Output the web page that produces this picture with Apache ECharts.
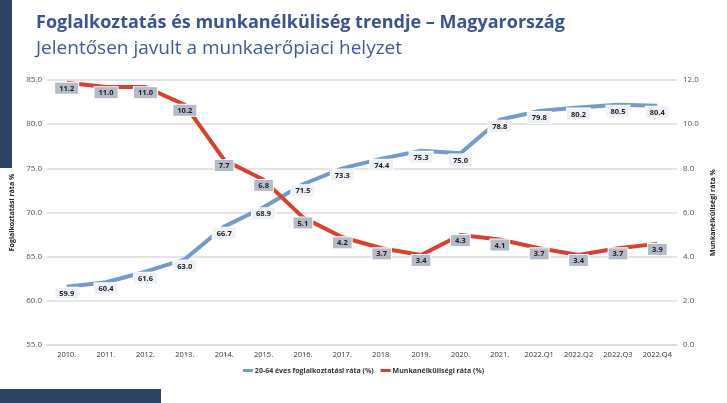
<!DOCTYPE html>
<html>
<head>
<meta charset="utf-8">
<script src="https://cdn.jsdelivr.net/npm/echarts@6/dist/echarts.min.js"></script>
<style>html,body{margin:0;padding:0;background:#fff;}#c{width:727px;height:403px;}</style>
</head>
<body>
<div id="c"></div>
<script>
var categories = ['2010.','2011.','2012.','2013.','2014.','2015.','2016.','2017.','2018.','2019.','2020.','2021.','2022.Q1','2022.Q2','2022.Q3','2022.Q4'];
var employment = [59.9, 60.4, 61.6, 63.0, 66.7, 68.9, 71.5, 73.3, 74.4, 75.3, 75.0, 78.8, 79.8, 80.2, 80.5, 80.4];
var unemployment = [11.2, 11.0, 11.0, 10.2, 7.7, 6.8, 5.1, 4.2, 3.7, 3.4, 4.3, 4.1, 3.7, 3.4, 3.7, 3.9];
var leftTicks = {min: 55, max: 85, interval: 5};
var rightTicks = {min: 0, max: 12, interval: 2};
var seriesNames = ['20-64 éves foglalkoztatási ráta (%)', 'Munkanélküliségi ráta (%)'];
var axisNames = ['Foglalkoztatási ráta %', 'Munkanélküliségi ráta %'];

var FONT = "'Open Sans', 'Noto Sans', sans-serif";
var chart = echarts.init(document.getElementById('c'), null, {renderer: 'canvas'});
var fmt = function (v) { return Number(v).toFixed(1); };
var option = {
  animation: false,
  backgroundColor: '#ffffff',
  title: [
    {text: 'Foglalkoztatás és munkanélküliség trendje – Magyarország', left: 31, top: 9,
     textStyle: {fontFamily: FONT, fontSize: 18, fontWeight: 'bold', color: '#3b5491'}},
    {text: 'Jelentősen javult a munkaerőpiaci helyzet', left: 31, top: 34,
     textStyle: {fontFamily: FONT, fontSize: 19, fontWeight: 'normal', color: '#3f5a9a'}}
  ],
  graphic: [
    {type: 'rect', left: 0, top: 0, shape: {width: 12, height: 168}, style: {fill: '#2e4466'}},
    {type: 'rect', left: 0, top: 389, shape: {width: 161, height: 14}, style: {fill: '#2e4466'}}
  ],
  legend: {
    bottom: 24, left: 'center', itemWidth: 10, itemHeight: 3, itemGap: 7,
    icon: 'rect',
    textStyle: {fontFamily: FONT, fontSize: 7, fontWeight: 'bold', color: '#333', padding: [0,0,0,-3]},
    data: seriesNames
  },
  grid: [
    {left: 47, right: 50, top: 80, bottom: 58},
    {left: 47, right: 50, top: 65, bottom: 73}
  ],
  xAxis: [
    {type: 'category', gridIndex: 0, data: categories, boundaryGap: true,
     axisLine: {show: true, lineStyle: {color: '#d9d9d9', width: 1.5}}, axisTick: {show: false},
     axisLabel: {interval: 0, fontFamily: FONT, fontSize: 7.5, color: '#333', margin: 6}},
    {type: 'category', gridIndex: 1, data: categories, boundaryGap: true, show: false}
  ],
  yAxis: [
    {type: 'value', gridIndex: 0, position: 'left', min: leftTicks.min, max: leftTicks.max, interval: leftTicks.interval,
     name: axisNames[0], nameLocation: 'middle', nameGap: 27, nameRotate: 90,
     nameTextStyle: {fontFamily: FONT, fontSize: 7, fontWeight: 'bold', color: '#222'},
     axisLine: {show: false}, axisTick: {show: false},
     axisLabel: {fontFamily: FONT, fontSize: 8, color: '#555', margin: 5, formatter: fmt},
     splitLine: {lineStyle: {color: '#dcdcdc', width: 1.5}}},
    {type: 'value', gridIndex: 0, position: 'right', min: rightTicks.min, max: rightTicks.max, interval: rightTicks.interval,
     name: axisNames[1], nameLocation: 'middle', nameGap: 28, nameRotate: 90,
     nameTextStyle: {fontFamily: FONT, fontSize: 7, fontWeight: 'bold', color: '#222'},
     axisLine: {show: false}, axisTick: {show: false},
     axisLabel: {fontFamily: FONT, fontSize: 8, color: '#555', margin: 6, formatter: fmt},
     splitLine: {show: false}},
    {type: 'value', gridIndex: 1, min: leftTicks.min, max: leftTicks.max, show: false, splitLine: {show: false}},
    {type: 'value', gridIndex: 1, min: rightTicks.min, max: rightTicks.max, show: false, splitLine: {show: false}}
  ],
  series: [
    {name: seriesNames[0], type: 'line', xAxisIndex: 1, yAxisIndex: 2, data: employment,
     symbol: 'circle', symbolSize: 0.1, showSymbol: true,
     lineStyle: {color: '#7399cf', width: 4}, itemStyle: {color: '#7399cf'},
     labelLayout: {hideOverlap: false},
     label: {show: true, position: 'bottom', distance: 1, formatter: function (p) { return fmt(p.value); },
       fontFamily: FONT, fontSize: 7.5, fontWeight: 'bold', color: '#222',
       backgroundColor: '#eef2f8', borderColor: '#ffffff', borderWidth: 1, padding: [2, 4, 1, 4]}},
    {name: seriesNames[1], type: 'line', xAxisIndex: 1, yAxisIndex: 3, data: unemployment,
     symbol: 'circle', symbolSize: 0.1, showSymbol: true,
     lineStyle: {color: '#d8412f', width: 4}, itemStyle: {color: '#d8412f'},
     labelLayout: {hideOverlap: false},
     label: {show: true, position: 'bottom', distance: 0, formatter: function (p) { return fmt(p.value); },
       fontFamily: FONT, fontSize: 7.5, fontWeight: 'bold', color: '#222',
       backgroundColor: '#b3bbc8', borderColor: '#ffffff', borderWidth: 1, padding: [2, 4, 1, 4]}}
  ]
};
chart.setOption(option);
</script>
</body>
</html>
